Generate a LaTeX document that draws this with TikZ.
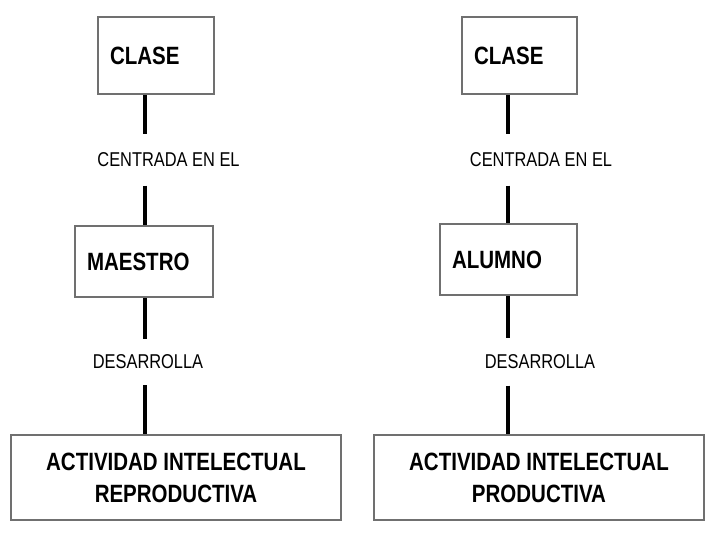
\documentclass[tikz,border=0pt]{standalone}
\usepackage{fontspec}
\usepackage{tikz}
\usetikzlibrary{calc,positioning}
\usepackage{xcolor}
\definecolor{boxgray}{RGB}{112,112,112}
\newfontfamily\narrowsans{Liberation Sans}[FakeStretch=0.82]

\begin{document}
\begin{tikzpicture}[x=1pt, y=-1pt,
        concept/.style={draw=boxgray, line width=2.5pt, fill=white, inner xsep=12pt, inner ysep=0pt,
            align=left, font=\narrowsans\bfseries\fontsize{25}{32}\selectfont},
        result/.style={draw=boxgray, line width=2.5pt, fill=white, minimum width=330pt, minimum height=85pt,
            align=center, font=\narrowsans\bfseries\fontsize{25}{32}\selectfont},
        verb/.style={inner sep=0pt, font=\narrowsans\fontsize{20}{24}\selectfont},
        link/.style={line width=3.5pt, black}]
        \useasboundingbox (0,0) rectangle (720,540);

        % Columns of the connectors
        \coordinate (colL) at (145,0);
        \coordinate (colR) at (508,0);

        % Left chart: teacher centred
        \node[concept, text width=92pt, minimum height=77pt] (claseL) at (156,55.5) {CLASE};
        \node[verb, minimum height=51pt] (centradaL) at (168.5,160) {CENTRADA EN EL};
        \node[concept, text width=114pt, minimum height=71pt] (maestro) at (144,261.5) {MAESTRO};
        \node[verb, minimum height=46pt] (desarrollaL) at (148,362) {DESARROLLA};
        \node[result] (reproductiva) at (176,477.5) {ACTIVIDAD INTELECTUAL\\REPRODUCTIVA};

        % Right chart: student centred
        \node[concept, text width=91pt, minimum height=77pt] (claseR) at (519.5,55.5) {CLASE};
        \node[verb, minimum height=51pt] (centradaR) at (541,160) {CENTRADA EN EL};
        \node[concept, text width=113pt, minimum height=71pt] (alumno) at (508.5,259.5) {ALUMNO};
        \node[verb, minimum height=47pt] (desarrollaR) at (540,362) {DESARROLLA};
        \node[result] (productiva) at (539,477.5) {ACTIVIDAD INTELECTUAL\\PRODUCTIVA};

        % Connectors
        \draw[link] (claseL.south -| colL) -- (centradaL.north -| colL);
        \draw[link] (centradaL.south -| colL) -- (maestro.north -| colL);
        \draw[link] (maestro.south -| colL) -- (desarrollaL.north -| colL);
        \draw[link] (desarrollaL.south -| colL) -- (reproductiva.north -| colL);

        \draw[link] (claseR.south -| colR) -- (centradaR.north -| colR);
        \draw[link] (centradaR.south -| colR) -- (alumno.north -| colR);
        \draw[link] (alumno.south -| colR) -- (desarrollaR.north -| colR);
        \draw[link] (desarrollaR.south -| colR) -- (productiva.north -| colR);
\end{tikzpicture}
\end{document}
